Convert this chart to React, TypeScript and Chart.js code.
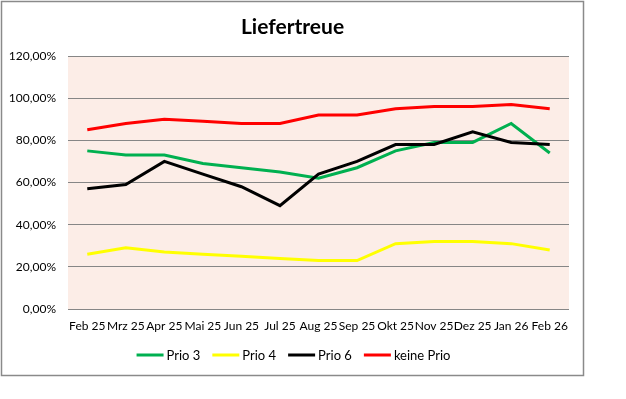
import React, { useEffect, useRef } from "react";
import { Chart, registerables } from "chart.js";

Chart.register(...registerables);

const categories = ["Feb 25", "Mrz 25", "Apr 25", "Mai 25", "Jun 25", "Jul 25", "Aug 25", "Sep 25", "Okt 25", "Nov 25", "Dez 25", "Jan 26", "Feb 26"];
const prio3 = [75, 73, 73, 69, 67, 65, 62, 67, 75, 79, 79, 88, 74];
const prio4 = [26, 29, 27, 26, 25, 24, 23, 23, 31, 32, 32, 31, 28];
const prio6 = [57, 59, 70, 64, 58, 49, 64, 70, 78, 78, 84, 79, 78];
const keinePrio = [85, 88, 90, 89, 88, 88, 92, 92, 95, 96, 96, 97, 95];
const yTicks = [0, 20, 40, 60, 80, 100, 120];
const titleText = "Liefertreue";

const FONT = "Lato, 'Open Sans', sans-serif";

const framePlugin = {
  id: "frame",
  beforeDraw(chart: any) {
    const { ctx, chartArea } = chart;
    ctx.save();
    ctx.fillStyle = "#ffffff";
    ctx.fillRect(0, 0, chart.width, chart.height);
    ctx.strokeStyle = "#8a8a8a";
    ctx.lineWidth = 1.5;
    ctx.strokeRect(1.5, 1.5, 582, 374);
    ctx.fillStyle = "#fcede7";
    ctx.fillRect(chartArea.left, chartArea.top, chartArea.right - chartArea.left, chartArea.bottom - chartArea.top);
    ctx.fillStyle = "#000";
    ctx.font = "bold 21px " + FONT;
    ctx.textAlign = "center";
    ctx.textBaseline = "middle";
    ctx.fillText(titleText, 292.5, 27);
    ctx.restore();
  },
  afterDraw(chart: any) {
    const { ctx } = chart;
    const ds = chart.data.datasets;
    ctx.save();
    ctx.font = "13px " + FONT;
    const lineLen = 27, gapText = 3, gapItem = 12;
    const widths = ds.map((d: any) => lineLen + gapText + ctx.measureText(d.label).width);
    const total = widths.reduce((a: number, b: number) => a + b, 0) + gapItem * (ds.length - 1);
    let x = 293.5 - total / 2;
    const y = 355;
    ds.forEach((d: any, i: number) => {
      ctx.strokeStyle = d.borderColor;
      ctx.lineWidth = 3;
      ctx.beginPath();
      ctx.moveTo(x, y);
      ctx.lineTo(x + lineLen, y);
      ctx.stroke();
      ctx.fillStyle = "#000";
      ctx.textAlign = "left";
      ctx.textBaseline = "middle";
      ctx.fillText(d.label, x + lineLen + gapText, y + 0.5);
      x += widths[i] + gapItem;
    });
    ctx.restore();
  },
};

export default function App() {
  const ref = useRef<HTMLCanvasElement | null>(null);
  useEffect(() => {
    if (!ref.current) return;
    const mk = (label: string, data: number[], color: string, order: number) => ({
      label,
      data,
      borderColor: color,
      backgroundColor: color,
      borderWidth: 3,
      pointRadius: 0,
      tension: 0,
      fill: false,
      order,
    });
    const chart = new Chart(ref.current, {
      type: "line",
      data: {
        labels: categories,
        datasets: [
          mk("Prio 3", prio3, "#00b050", 4),
          mk("Prio 4", prio4, "#ffff00", 3),
          mk("Prio 6", prio6, "#000000", 2),
          mk("keine Prio", keinePrio, "#ff0000", 1),
        ],
      },
      options: {
        animation: false,
        responsive: false,
        maintainAspectRatio: false,
        layout: { padding: { left: 0, right: 57, top: 56, bottom: 60 } },
        plugins: {
          tooltip: { enabled: false },
          title: { display: false },
          legend: { display: false },
        },
        scales: {
          x: {
            offset: true,
            grid: { display: false, drawTicks: false },
            border: { display: false },
            ticks: { color: "#000", font: { family: FONT, size: 12 }, padding: 10, maxRotation: 0, autoSkip: false },
            afterFit: (s: any) => { s.height = 30; },
          },
          y: {
            min: 0,
            max: 120,
            grid: { color: "#868686", lineWidth: 1, drawTicks: false },
            border: { display: false },
            afterBuildTicks: (s: any) => { s.ticks = yTicks.map((v) => ({ value: v })); },
            ticks: {
              color: "#000",
              font: { family: FONT, size: 12 },
              padding: 12,
              callback: (v: any) => Number(v).toFixed(2).replace(".", ",") + "%",
            },
            afterFit: (s: any) => { s.width = 68; },
          },
        },
      },
      plugins: [framePlugin],
    });
    return () => chart.destroy();
  }, []);
  return (
    <div style={{ position: "fixed", left: 0, top: 0, width: 626, height: 399 }}>
      <canvas ref={ref} width={626} height={399} style={{ width: 626, height: 399 }} />
    </div>
  );
}
